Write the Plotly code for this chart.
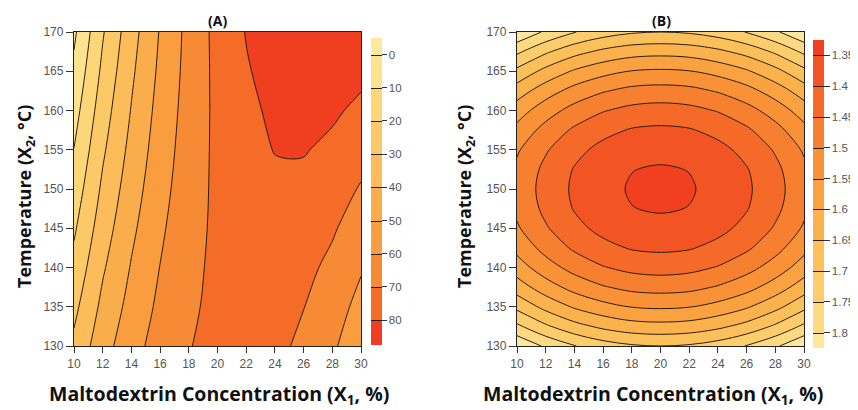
import plotly.graph_objects as go

# ---------------- data ----------------
# Panel A: maltodextrin concentration (X1, %) columns, temperature (X2, degC) rows,
# response values read from the contour map
x_conc_a = [10, 12, 14, 16, 18, 20, 22, 24, 25, 26, 28, 30]
temp_a = [130, 135, 140, 145, 150, 155, 160, 165, 170]
resp_a = [
    [32.1, 46.1, 56.3, 64.2, 69.6, 72.8, 73.5, 71.9, 70.2, 68.0, 61.6, 53.0],
    [27.5, 42.4, 53.4, 62.1, 68.4, 72.4, 74.0, 73.3, 72.0, 70.2, 64.7, 56.9],
    [23.0, 38.8, 50.7, 60.2, 67.4, 72.2, 74.6, 74.7, 73.9, 72.5, 67.8, 60.9],
    [18.6, 35.2, 48.0, 58.4, 66.4, 72.0, 75.3, 76.3, 75.9, 74.9, 71.1, 65.0],
    [14.4, 31.8, 45.4, 56.6, 65.5, 72.0, 76.2, 77.9, 78.0, 77.4, 74.4, 69.2],
    [10.2, 28.5, 42.9, 55.0, 64.7, 72.1, 77.1, 80.3, 80.6, 80.6, 77.9, 73.5],
    [6.1, 25.3, 40.5, 53.5, 64.0, 72.2, 78.1, 81.6, 82.4, 82.7, 81.5, 77.9],
    [2.1, 22.1, 38.3, 52.0, 63.4, 72.5, 79.2, 83.5, 84.8, 85.5, 85.1, 82.4],
    [-1.8, 19.1, 36.1, 50.7, 63.0, 72.9, 80.4, 85.6, 87.3, 88.4, 88.9, 87.0],
]
levels_a = [0, 10, 20, 30, 40, 50, 60, 70, 80]

x_conc_b = [10, 12, 14, 16, 18, 20, 22, 24, 26, 28, 30]
temp_b = [130, 132.5, 135, 137.5, 140, 142.5, 145, 147.5, 150,
          152.5, 155, 157.5, 160, 162.5, 165, 167.5, 170]
resp_b = [
    [1.844, 1.792, 1.752, 1.723, 1.706, 1.700, 1.706, 1.723, 1.752, 1.792, 1.844],
    [1.760, 1.708, 1.667, 1.639, 1.621, 1.616, 1.621, 1.639, 1.667, 1.708, 1.760],
    [1.687, 1.635, 1.594, 1.566, 1.548, 1.543, 1.548, 1.566, 1.594, 1.635, 1.687],
    [1.625, 1.573, 1.532, 1.504, 1.486, 1.481, 1.486, 1.504, 1.532, 1.573, 1.625],
    [1.574, 1.522, 1.482, 1.453, 1.436, 1.430, 1.436, 1.453, 1.482, 1.522, 1.574],
    [1.535, 1.483, 1.442, 1.414, 1.396, 1.391, 1.396, 1.414, 1.442, 1.483, 1.535],
    [1.506, 1.455, 1.414, 1.386, 1.368, 1.363, 1.368, 1.386, 1.414, 1.455, 1.506],
    [1.490, 1.438, 1.397, 1.369, 1.351, 1.346, 1.351, 1.369, 1.397, 1.438, 1.490],
    [1.484, 1.432, 1.392, 1.363, 1.346, 1.340, 1.346, 1.363, 1.392, 1.432, 1.484],
    [1.490, 1.438, 1.397, 1.369, 1.351, 1.346, 1.351, 1.369, 1.397, 1.438, 1.490],
    [1.506, 1.455, 1.414, 1.386, 1.368, 1.363, 1.368, 1.386, 1.414, 1.455, 1.506],
    [1.535, 1.483, 1.442, 1.414, 1.396, 1.391, 1.396, 1.414, 1.442, 1.483, 1.535],
    [1.574, 1.522, 1.482, 1.453, 1.436, 1.430, 1.436, 1.453, 1.482, 1.522, 1.574],
    [1.625, 1.573, 1.532, 1.504, 1.486, 1.481, 1.486, 1.504, 1.532, 1.573, 1.625],
    [1.687, 1.635, 1.594, 1.566, 1.548, 1.543, 1.548, 1.566, 1.594, 1.635, 1.687],
    [1.760, 1.708, 1.667, 1.639, 1.621, 1.616, 1.621, 1.639, 1.667, 1.708, 1.760],
    [1.844, 1.792, 1.752, 1.723, 1.706, 1.700, 1.706, 1.723, 1.752, 1.792, 1.844],
]
levels_b = [1.35, 1.4, 1.45, 1.5, 1.55, 1.6, 1.65, 1.7, 1.75, 1.8]
x_ticks = [10, 12, 14, 16, 18, 20, 22, 24, 26, 28, 30]
y_ticks = [130, 135, 140, 145, 150, 155, 160, 165, 170]

# ---------------- styling ----------------
W, H = 858, 410
OFF = 8  # page body margin offset
TICK_FONT = dict(family="Liberation Sans Narrow, Arial Narrow, Liberation Sans, sans-serif",
                 size=12, color="#555555")
CB_FONT = dict(family="Liberation Sans Narrow, Arial Narrow, Liberation Sans, sans-serif",
               size=11.5, color="#555555")
XTITLE_FONT = dict(family="Open Sans, DejaVu Sans, sans-serif", size=19.5, color="#111111")
YTITLE_FONT = dict(family="Open Sans, DejaVu Sans, sans-serif", size=18, color="#111111")

# colour bars run from small value at top to large at bottom -> plot negated values
neg_a = [[-v for v in row] for row in resp_a]
neg_b = [[-v for v in row] for row in resp_b]

# band colours (filled contours: one colour per band, from most negative band upward)
band_a = ["#EF3F20", "#F46C28", "#F78A34", "#F99D3F", "#FAAD4B",
          "#FBBC59", "#FCC967", "#FDD677", "#FEE38E", "#FEE99C"]
band_b = ["#FEE89E", "#FDDA82", "#FDCD6C", "#FCC05A", "#FBB24C", "#FAA240",
          "#F99237", "#F77F30", "#F56A28", "#F35424", "#F0401F"]
cs_a = [[i / (len(band_a) - 1), c] for i, c in enumerate(band_a)]
cs_b = [[i / (len(band_b) - 1), c] for i, c in enumerate(band_b)]

def px_x(p):
    return (p - OFF) / W

def px_y(p):
    return 1 - (p - OFF) / H

fig = go.Figure()

fig.add_trace(go.Contour(
    x=x_conc_a, y=temp_a, z=neg_a, xaxis="x", yaxis="y",
    colorscale=cs_a, zauto=False, zmin=-87.5, zmax=0.9,
    contours=dict(start=-levels_a[-1], end=-levels_a[0], size=10,
                  coloring="fill", showlines=True),
    line=dict(color="#2a1f18", width=1, smoothing=1.0),
    hoverinfo="skip",
    colorbar=dict(
        x=px_x(371), xanchor="left", thickness=11, thicknessmode="pixels",
        lenmode="pixels", len=307, y=px_y(191.5), yanchor="middle",
        xpad=0, ypad=0, outlinewidth=0,
        tickmode="array", tickvals=[-v for v in levels_a],
        ticktext=[str(v) for v in levels_a],
        ticks="outside", ticklen=5, tickcolor="#333333", tickwidth=1,
        tickfont=CB_FONT,
    ),
))

fig.add_trace(go.Contour(
    x=x_conc_b, y=temp_b, z=neg_b, xaxis="x2", yaxis="y2",
    colorscale=cs_b, zauto=False, zmin=-1.808, zmax=-1.342,
    contours=dict(start=-levels_b[-1], end=-levels_b[0], size=0.05,
                  coloring="fill", showlines=True),
    line=dict(color="#2a1f18", width=1, smoothing=1.0),
    hoverinfo="skip",
    colorbar=dict(
        x=px_x(813), xanchor="left", thickness=11, thicknessmode="pixels",
        lenmode="pixels", len=308, y=px_y(194), yanchor="middle",
        xpad=0, ypad=0, outlinewidth=0,
        tickmode="array", tickvals=[-v for v in levels_b],
        ticktext=[("%g" % v) for v in levels_b],
        ticks="outside", ticklen=6, tickcolor="#333333", tickwidth=1,
        tickfont=CB_FONT,
    ),
))

axis_common = dict(showline=True, linecolor="#222222", linewidth=1.3, mirror=True,
                   ticks="outside", tickcolor="#333333", tickwidth=1,
                   showgrid=False, zeroline=False, tickfont=TICK_FONT)

fig.update_layout(
    width=W, height=H,
    margin=dict(l=0, r=0, t=0, b=0, pad=0, autoexpand=False),
    paper_bgcolor="white", plot_bgcolor="white",
    showlegend=False,
    xaxis=dict(domain=[px_x(74), px_x(361)], range=[10, 30], tickvals=x_ticks,
               anchor="y", ticklen=6, **axis_common),
    yaxis=dict(domain=[px_y(346), px_y(32)], range=[130, 170], tickvals=y_ticks,
               anchor="x", ticklen=7, **axis_common),
    xaxis2=dict(domain=[px_x(517), px_x(804)], range=[10, 30], tickvals=x_ticks,
                anchor="y2", ticklen=6, **axis_common),
    yaxis2=dict(domain=[px_y(346), px_y(32)], range=[130, 170], tickvals=y_ticks,
                anchor="x2", ticklen=7, **axis_common),
)

ann = []
ann.append(dict(text="<b>(A)</b>", x=px_x(217.5), y=px_y(20), xref="paper", yref="paper",
                showarrow=False, font=dict(family="Open Sans, sans-serif", size=14, color="#111"),
                xanchor="center", yanchor="middle"))
ann.append(dict(text="<b>(B)</b>", x=px_x(661), y=px_y(20), xref="paper", yref="paper",
                showarrow=False, font=dict(family="Open Sans, sans-serif", size=14, color="#111"),
                xanchor="center", yanchor="middle"))
for cx in (219, 653):
    ann.append(dict(text="<b>Maltodextrin Concentration (X<sub>1</sub>, %)</b>",
                    x=px_x(cx), y=px_y(394), xref="paper", yref="paper",
                    showarrow=False, font=XTITLE_FONT, xanchor="center", yanchor="middle"))
for cx in (25, 465):
    ann.append(dict(text="<b>Temperature (X<sub>2</sub>, °C)</b>",
                    x=px_x(cx), y=px_y(197), xref="paper", yref="paper", textangle=-90,
                    showarrow=False, font=YTITLE_FONT, xanchor="center", yanchor="middle"))
ann.append(dict(text="9.61%.", x=px_x(-3), y=px_y(12), xref="paper", yref="paper",
                showarrow=False, font=dict(family="Liberation Serif, serif", size=22, color="#111"),
                xanchor="left", yanchor="bottom"))
fig.update_layout(annotations=ann)

fig.write_html("out.html")
